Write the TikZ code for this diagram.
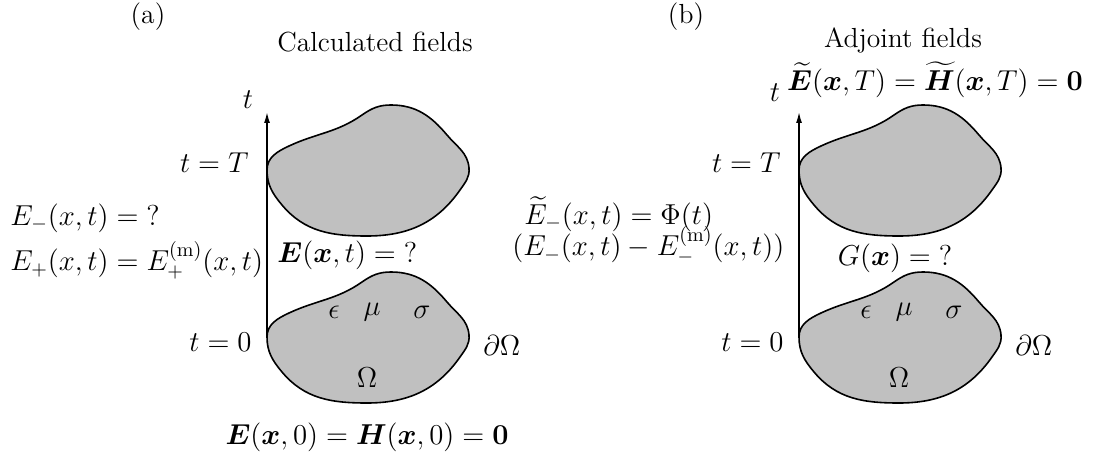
\documentclass[tikz,border=0pt]{standalone}
\usepackage{amsmath}
\usepackage{bm}
\usetikzlibrary{arrows.meta}
\definecolor{BlobGray}{RGB}{192,192,192}

\begin{document}
\begin{tikzpicture}[x=0.5pt, y=0.5pt,
    every node/.style={font=\fontsize{13.8}{16}\selectfont, inner sep=0pt},
    taxis/.style={-{Latex[length=5.5pt, width=3pt]}, line width=0.7pt},
    region/.style={fill=BlobGray, draw=black, line width=0.8pt},
    lbl/.style={anchor=east},
    blob/.pic={
      \draw[region] (0,0) to[out=90, in=205] (22,24) to[out=25, in=215] (95,55)
        to[out=35, in=180] (124,65) to[out=0, in=130] (180,35)
        to[out=-50, in=95] (202,2) to[out=-85, in=55] (193,-20)
        to[out=-125, in=0] (100,-66) to[out=180, in=-50] (15,-35)
        to[out=130, in=-90] cycle;
    }
  ]
  \useasboundingbox (0,0) rectangle (1101,461);

  % (a) Calculated fields
  \node (tagA) at (148,444) {(a)};
  \node (titleA) at (375,419) {Calculated fields};
  \coordinate (startA) at (267,124);
  \coordinate (endA) at (267,349);
  \pic at (267,291) {blob};
  \pic at (267,124) {blob};
  \draw[taxis] (startA) -- (endA);
  \node (tA) at (248,361) {$t$};
  \node[lbl] (tTA) at (249,298) {$t = T$};
  \node[lbl] (t0A) at (252,119) {$t = 0$};
  \node[anchor=west] (bndA) at (483,116) {$\partial\Omega$};
  \node (epsA) at (334,149) {$\epsilon$};
  \node (muA) at (372,149) {$\mu$};
  \node (sigA) at (422,149) {$\sigma$};
  \node (omA) at (367,83) {$\Omega$};
  \node[anchor=west] (fieldA) at (277,206) {$\bm{E}(\bm{x},t) = {}?$};
  \node[anchor=west] (emA) at (10,243) {$E_-(x,t) = {}?$};
  \node[anchor=west] (epA) at (10,201) {$E_+(x,t) = E_+^{(\mathrm{m})}(x,t)$};
  \node (initA) at (367,24)
        {$\bm{E}(\bm{x},0) = \bm{H}(\bm{x},0) = \mathbf{0}$};

  % (b) Adjoint fields
  \node (tagB) at (686,444) {(b)};
  \node (titleB) at (903,421) {Adjoint fields};
  \coordinate (startB) at (799,124);
  \coordinate (endB) at (799,349);
  \pic at (799,291) {blob};
  \pic at (799,124) {blob};
  \draw[taxis] (startB) -- (endB);
  \node (tB) at (775,368) {$t$};
  \node (finalB) at (935,381)
        {$\widetilde{\bm{E}}(\bm{x},T) = \widetilde{\bm{H}}(\bm{x},T) = \mathbf{0}$};
  \node[lbl] (tTB) at (781,298) {$t = T$};
  \node[lbl] (t0B) at (784,119) {$t = 0$};
  \node[anchor=west] (bndB) at (1015,116) {$\partial\Omega$};
  \node (epsB) at (866,149) {$\epsilon$};
  \node (muB) at (904,149) {$\mu$};
  \node (sigB) at (954,149) {$\sigma$};
  \node (omB) at (899,83) {$\Omega$};
  \node (gradB) at (895,203) {$G(\bm{x}) = {}?$};
  \node[anchor=west] (srcB) at (524,247) {$\widetilde{E}_-(x,t) = \Phi(t)$};
  \node[anchor=west] (diffB) at (512,216)
        {$(E_-(x,t) - E_-^{(\mathrm{m})}(x,t))$};
\end{tikzpicture}
\end{document}
